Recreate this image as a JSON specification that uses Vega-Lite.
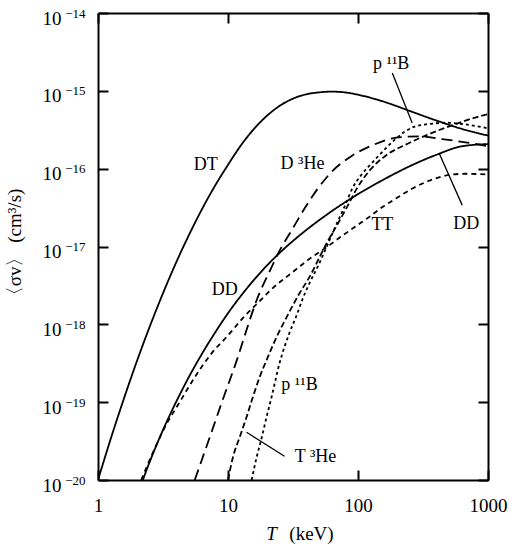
{
  "$schema": "https://vega.github.io/schema/vega-lite/v6.json",
  "width": 390,
  "height": 467,
  "autosize": "none",
  "padding": {"left": 98, "top": 13, "right": 30, "bottom": 70},
  "background": "white",
  "config": {
    "view": {"stroke": null},
    "font": "Liberation Serif",
    "axis": {
      "domainColor": "black", "domainWidth": 2, "tickColor": "black", "tickWidth": 2,
      "grid": false, "labelColor": "black", "titleColor": "black",
      "labelFont": "Liberation Serif", "titleFont": "Liberation Serif",
      "labelFontSize": 19, "titleFontSize": 19, "titleFontWeight": "normal",
      "labelFlush": false, "labelOverlap": false
    }
  },
  "datasets": {
    "curves": [
      {"curve": "DT", "T": 1, "sv": 1e-20},
      {"curve": "DT", "T": 1.259, "sv": 3.47e-20},
      {"curve": "DT", "T": 1.585, "sv": 1.12e-19},
      {"curve": "DT", "T": 1.995, "sv": 3.39e-19},
      {"curve": "DT", "T": 2.512, "sv": 9.55e-19},
      {"curve": "DT", "T": 3.162, "sv": 2.51e-18},
      {"curve": "DT", "T": 3.981, "sv": 6.17e-18},
      {"curve": "DT", "T": 5.012, "sv": 1.41e-17},
      {"curve": "DT", "T": 6.31, "sv": 3.02e-17},
      {"curve": "DT", "T": 7.943, "sv": 6.03e-17},
      {"curve": "DT", "T": 10, "sv": 1.12e-16},
      {"curve": "DT", "T": 12.59, "sv": 2.0e-16},
      {"curve": "DT", "T": 15.85, "sv": 3.24e-16},
      {"curve": "DT", "T": 19.95, "sv": 4.79e-16},
      {"curve": "DT", "T": 25.12, "sv": 6.46e-16},
      {"curve": "DT", "T": 31.62, "sv": 7.94e-16},
      {"curve": "DT", "T": 39.81, "sv": 9.02e-16},
      {"curve": "DT", "T": 50.12, "sv": 9.55e-16},
      {"curve": "DT", "T": 63.1, "sv": 9.77e-16},
      {"curve": "DT", "T": 79.43, "sv": 9.55e-16},
      {"curve": "DT", "T": 100, "sv": 8.91e-16},
      {"curve": "DT", "T": 158.5, "sv": 7.24e-16},
      {"curve": "DT", "T": 251.2, "sv": 5.5e-16},
      {"curve": "DT", "T": 398.1, "sv": 4.17e-16},
      {"curve": "DT", "T": 631, "sv": 3.24e-16},
      {"curve": "DT", "T": 1000, "sv": 2.66e-16},

      {"curve": "DD", "T": 2.213, "sv": 1e-20},
      {"curve": "DD", "T": 2.512, "sv": 1.75e-20},
      {"curve": "DD", "T": 3.162, "sv": 4.39e-20},
      {"curve": "DD", "T": 3.981, "sv": 1.0e-19},
      {"curve": "DD", "T": 5.012, "sv": 2.12e-19},
      {"curve": "DD", "T": 6.31, "sv": 4.19e-19},
      {"curve": "DD", "T": 7.943, "sv": 7.8e-19},
      {"curve": "DD", "T": 10, "sv": 1.39e-18},
      {"curve": "DD", "T": 12.59, "sv": 2.33e-18},
      {"curve": "DD", "T": 15.85, "sv": 3.73e-18},
      {"curve": "DD", "T": 19.95, "sv": 5.71e-18},
      {"curve": "DD", "T": 25.12, "sv": 8.36e-18},
      {"curve": "DD", "T": 31.62, "sv": 1.18e-17},
      {"curve": "DD", "T": 39.81, "sv": 1.62e-17},
      {"curve": "DD", "T": 50.12, "sv": 2.17e-17},
      {"curve": "DD", "T": 63.1, "sv": 2.86e-17},
      {"curve": "DD", "T": 79.43, "sv": 3.7e-17},
      {"curve": "DD", "T": 100, "sv": 4.71e-17},
      {"curve": "DD", "T": 158.5, "sv": 7.29e-17},
      {"curve": "DD", "T": 251.2, "sv": 1.08e-16},
      {"curve": "DD", "T": 398.1, "sv": 1.5e-16},
      {"curve": "DD", "T": 631, "sv": 1.94e-16},
      {"curve": "DD", "T": 1000, "sv": 2.07e-16},

      {"curve": "D3He", "T": 5.55, "sv": 1e-20},
      {"curve": "D3He", "T": 7.24, "sv": 3.55e-20},
      {"curve": "D3He", "T": 9.1, "sv": 1.07e-19},
      {"curve": "D3He", "T": 11.7, "sv": 3.47e-19},
      {"curve": "D3He", "T": 13.9, "sv": 8.5e-19},
      {"curve": "D3He", "T": 16.6, "sv": 2.04e-18},
      {"curve": "D3He", "T": 20.9, "sv": 4.8e-18},
      {"curve": "D3He", "T": 25, "sv": 8.91e-18},
      {"curve": "D3He", "T": 30.9, "sv": 1.62e-17},
      {"curve": "D3He", "T": 38.9, "sv": 3.1e-17},
      {"curve": "D3He", "T": 48.9, "sv": 5.5e-17},
      {"curve": "D3He", "T": 63.5, "sv": 9.3e-17},
      {"curve": "D3He", "T": 90.7, "sv": 1.48e-16},
      {"curve": "D3He", "T": 129, "sv": 2.0e-16},
      {"curve": "D3He", "T": 197, "sv": 2.5e-16},
      {"curve": "D3He", "T": 296, "sv": 2.6e-16},
      {"curve": "D3He", "T": 444, "sv": 2.4e-16},
      {"curve": "D3He", "T": 716, "sv": 2.14e-16},
      {"curve": "D3He", "T": 1000, "sv": 1.95e-16},

      {"curve": "TT", "T": 2.15, "sv": 1e-20},
      {"curve": "TT", "T": 2.75, "sv": 2.6e-20},
      {"curve": "TT", "T": 3.39, "sv": 5.37e-20},
      {"curve": "TT", "T": 4.04, "sv": 8.71e-20},
      {"curve": "TT", "T": 5.55, "sv": 2.09e-19},
      {"curve": "TT", "T": 7.5, "sv": 4.27e-19},
      {"curve": "TT", "T": 9.77, "sv": 6.9e-19},
      {"curve": "TT", "T": 13, "sv": 1.2e-18},
      {"curve": "TT", "T": 18.1, "sv": 2.1e-18},
      {"curve": "TT", "T": 22, "sv": 2.9e-18},
      {"curve": "TT", "T": 31.4, "sv": 4.68e-18},
      {"curve": "TT", "T": 40.2, "sv": 6.5e-18},
      {"curve": "TT", "T": 57.2, "sv": 9.77e-18},
      {"curve": "TT", "T": 75.9, "sv": 1.38e-17},
      {"curve": "TT", "T": 97.6, "sv": 1.85e-17},
      {"curve": "TT", "T": 122, "sv": 2.4e-17},
      {"curve": "TT", "T": 155, "sv": 3.24e-17},
      {"curve": "TT", "T": 197, "sv": 4.17e-17},
      {"curve": "TT", "T": 264, "sv": 5.6e-17},
      {"curve": "TT", "T": 353, "sv": 7.0e-17},
      {"curve": "TT", "T": 502, "sv": 8.3e-17},
      {"curve": "TT", "T": 679, "sv": 8.6e-17},
      {"curve": "TT", "T": 1000, "sv": 8.4e-17},

      {"curve": "T3He", "T": 10, "sv": 1e-20},
      {"curve": "T3He", "T": 10.9, "sv": 1.95e-20},
      {"curve": "T3He", "T": 12.3, "sv": 3.55e-20},
      {"curve": "T3He", "T": 13.9, "sv": 6.46e-20},
      {"curve": "T3He", "T": 15.5, "sv": 1.15e-19},
      {"curve": "T3He", "T": 17.5, "sv": 2.09e-19},
      {"curve": "T3He", "T": 19.8, "sv": 3.47e-19},
      {"curve": "T3He", "T": 23.7, "sv": 6.92e-19},
      {"curve": "T3He", "T": 28.2, "sv": 1.23e-18},
      {"curve": "T3He", "T": 35.5, "sv": 2.51e-18},
      {"curve": "T3He", "T": 42.4, "sv": 4.07e-18},
      {"curve": "T3He", "T": 50.5, "sv": 7.24e-18},
      {"curve": "T3He", "T": 58.2, "sv": 1.15e-17},
      {"curve": "T3He", "T": 69.3, "sv": 1.91e-17},
      {"curve": "T3He", "T": 83, "sv": 3.3e-17},
      {"curve": "T3He", "T": 97.6, "sv": 5.5e-17},
      {"curve": "T3He", "T": 123, "sv": 9.5e-17},
      {"curve": "T3He", "T": 166, "sv": 1.5e-16},
      {"curve": "T3He", "T": 235, "sv": 2.05e-16},
      {"curve": "T3He", "T": 335, "sv": 2.69e-16},
      {"curve": "T3He", "T": 478, "sv": 3.39e-16},
      {"curve": "T3He", "T": 811, "sv": 4.57e-16},
      {"curve": "T3He", "T": 1000, "sv": 5.01e-16},

      {"curve": "p11B", "T": 15.2, "sv": 1e-20},
      {"curve": "p11B", "T": 16.6, "sv": 1.95e-20},
      {"curve": "p11B", "T": 18.2, "sv": 3.55e-20},
      {"curve": "p11B", "T": 19.8, "sv": 6.46e-20},
      {"curve": "p11B", "T": 21.6, "sv": 1.15e-19},
      {"curve": "p11B", "T": 24.9, "sv": 3.16e-19},
      {"curve": "p11B", "T": 29.7, "sv": 7.76e-19},
      {"curve": "p11B", "T": 33.7, "sv": 1.3e-18},
      {"curve": "p11B", "T": 37.4, "sv": 2.1e-18},
      {"curve": "p11B", "T": 42.4, "sv": 3.39e-18},
      {"curve": "p11B", "T": 50.6, "sv": 6.17e-18},
      {"curve": "p11B", "T": 57.2, "sv": 9.77e-18},
      {"curve": "p11B", "T": 66, "sv": 1.7e-17},
      {"curve": "p11B", "T": 78.7, "sv": 3.24e-17},
      {"curve": "p11B", "T": 90.6, "sv": 5.6e-17},
      {"curve": "p11B", "T": 106, "sv": 8.32e-17},
      {"curve": "p11B", "T": 126, "sv": 1.15e-16},
      {"curve": "p11B", "T": 146, "sv": 1.5e-16},
      {"curve": "p11B", "T": 168, "sv": 1.91e-16},
      {"curve": "p11B", "T": 197, "sv": 2.45e-16},
      {"curve": "p11B", "T": 230, "sv": 3.0e-16},
      {"curve": "p11B", "T": 270, "sv": 3.45e-16},
      {"curve": "p11B", "T": 353, "sv": 3.75e-16},
      {"curve": "p11B", "T": 478, "sv": 3.89e-16},
      {"curve": "p11B", "T": 633, "sv": 3.75e-16},
      {"curve": "p11B", "T": 1000, "sv": 3.3e-16}
    ],
    "labels": [
      {"label": "DT", "T": 6.74, "sv": 1.11e-16},
      {"label": "DD", "T": 9.43, "sv": 2.75e-18},
      {"label": "D ³He", "T": 37.4, "sv": 1.15e-16},
      {"label": "TT", "T": 154, "sv": 1.88e-17},
      {"label": "DD", "T": 679, "sv": 1.95e-17},
      {"label": "p ¹¹B", "T": 180, "sv": 2.19e-15},
      {"label": "p ¹¹B", "T": 35.5, "sv": 1.66e-19},
      {"label": "T ³He", "T": 47.1, "sv": 1.95e-20}
    ],
    "leaders": [
      {"T": 183.6, "sv": 1.69e-15, "T2": 261, "sv2": 3.85e-16},
      {"T": 421, "sv": 1.58e-16, "T2": 633, "sv2": 3.4e-17},
      {"T": 13.9, "sv": 4.11e-20, "T2": 27.2, "sv2": 2.02e-20}
    ]
  },
  "layer": [
    {
      "data": {"name": "curves"},
      "mark": {"type": "line", "clip": true, "strokeWidth": 1.8, "color": "black", "interpolate": "monotone"},
      "encoding": {
        "x": {
          "field": "T", "type": "quantitative",
          "scale": {"type": "log", "domain": [1, 1000], "nice": false},
          "axis": {"orient": "bottom", "values": [1, 10, 100, 1000], "tickSize": -10, "labelPadding": 26,
                   "labelExpr": "format(datum.value, 'd')", "title": "(keV)",
                   "titleX": 213, "titleY": 44, "titleAlign": "center", "titleBaseline": "top"}
        },
        "y": {
          "field": "sv", "type": "quantitative",
          "scale": {"type": "log", "domain": [1e-20, 1e-14], "nice": false},
          "axis": {"orient": "left", "values": [1e-20, 1e-19, 1e-18, 1e-17, 1e-16, 1e-15, 1e-14], "tickSize": -10,
                   "labelPadding": 47, "labelBaseline": "middle", "labelOffset": 5,
                   "labelExpr": "'10'",
                   "title": "〈σv〉 (cm³/s)", "titlePadding": 18}
        },
        "detail": {"field": "curve", "type": "nominal"},
        "strokeDash": {
          "field": "curve", "type": "nominal",
          "scale": {"domain": ["DT", "DD", "D3He", "TT", "T3He", "p11B"],
                    "range": [[1, 0], [1, 0], [11, 6], [5, 4], [6, 3], [3, 3]]},
          "legend": null
        }
      }
    },
    {
      "data": {"name": "leaders"},
      "mark": {"type": "rule", "color": "black", "strokeWidth": 1.3},
      "encoding": {
        "x": {"field": "T", "type": "quantitative",
              "axis": {"orient": "top", "values": [1, 10, 100, 1000], "labels": false, "tickSize": -10, "title": null}},
        "y": {"field": "sv", "type": "quantitative",
              "axis": {"orient": "right", "values": [1e-20, 1e-19, 1e-18, 1e-17, 1e-16, 1e-15, 1e-14], "labels": false, "tickSize": -10, "title": null}},
        "x2": {"field": "T2"},
        "y2": {"field": "sv2"}
      }
    },
    {
      "data": {"name": "labels"},
      "mark": {"type": "text", "font": "Liberation Serif", "fontSize": 18, "color": "black", "align": "center", "baseline": "middle"},
      "encoding": {
        "x": {"field": "T", "type": "quantitative",
              "axis": {"orient": "bottom", "values": [1, 10, 100, 1000], "labels": false, "ticks": false, "domain": false,
                       "title": "T", "titleFontStyle": "italic", "titleX": 173, "titleY": 44, "titleAlign": "center", "titleBaseline": "top"}},
        "y": {"field": "sv", "type": "quantitative",
              "axis": {"orient": "left", "values": [1e-20, 1e-19, 1e-18, 1e-17, 1e-16, 1e-15, 1e-14], "ticks": false, "domain": false,
                       "labelFontSize": 13, "labelPadding": 13, "labelBaseline": "middle", "labelOffset": 0,
                       "labelExpr": "['−20','−19','−18','−17','−16','−15','−14'][round(log(datum.value)/LN10)+20]",
                       "title": null}},
        "text": {"field": "label"}
      }
    }
  ],
  "resolve": {"axis": {"x": "independent", "y": "independent"}}
}
